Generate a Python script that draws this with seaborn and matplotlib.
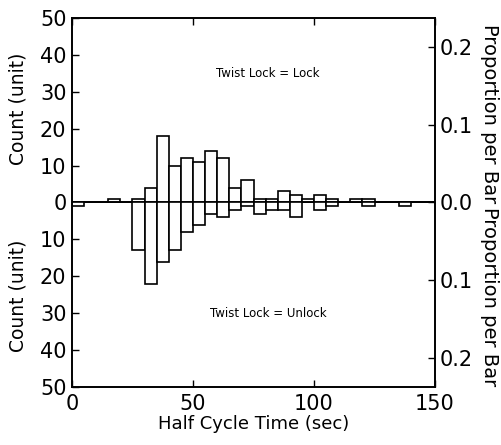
import numpy as np
import pandas as pd
import seaborn as sns
import matplotlib.pyplot as plt

# Half cycle time histogram, 5 sec bins, Lock (up) vs Unlock (down)
bin_left = [0, 5, 10, 15, 20, 25, 30, 35, 40, 45, 50, 55, 60, 65, 70, 75, 80, 85,
            90, 95, 100, 105, 110, 115, 120, 125, 130, 135, 140, 145]
lock_counts = [0, 0, 0, 1, 0, 1, 4, 18, 10, 12, 11, 14, 12, 4, 6, 1, 1, 3,
               2, 1, 2, 1, 0, 1, 1, 0, 0, 0, 0, 0]
unlock_counts = [1, 0, 0, 0, 0, 13, 22, 16, 13, 8, 6, 3, 4, 2, 1, 3, 2, 2,
                 4, 0, 2, 1, 0, 0, 1, 0, 0, 1, 0, 0]
y_ticks = [-50, -40, -30, -20, -10, 0, 10, 20, 30, 40, 50]
prop_ticks = [-0.2, -0.1, 0.0, 0.1, 0.2]

sns.set_style("ticks")
plt.rcParams['font.family'] = ['DejaVu Sans']
plt.rcParams.update({'text.color': 'black', 'axes.labelcolor': 'black',
                     'xtick.color': 'black', 'ytick.color': 'black',
                     'axes.edgecolor': 'black'})

# bin centres so each value falls inside its 5 sec bin
df = pd.DataFrame({'t': [b + 2.5 for b in bin_left], 'lock': lock_counts,
                   'unlock': [-c for c in unlock_counts]})
total = sum(lock_counts) + sum(unlock_counts)

fig = plt.figure(figsize=(5.01, 4.45), dpi=100)
ax = fig.add_axes([0.1437, 0.1303, 0.7246, 0.8293])

ax.axhline(0, color='black', lw=1.2, zorder=0)
sns.histplot(data=df, x='t', weights='lock', binwidth=5, binrange=(0, 150), ax=ax,
             color='white', edgecolor='black', linewidth=1.2, alpha=1)
sns.histplot(data=df, x='t', weights='unlock', binwidth=5, binrange=(0, 150), ax=ax,
             color='white', edgecolor='black', linewidth=1.2, alpha=1)

ax.set_xlim(0, 150)
ax.set_ylim(-50, 50)
ax.set_xticks([0, 50, 100, 150])
ax.set_yticks(y_ticks)
ax.set_yticklabels([str(abs(v)) for v in y_ticks])
ax.tick_params(labelsize=15, direction='in', length=5, top=True, width=1)
ax.tick_params(axis='x', pad=5)
ax.tick_params(axis='y', pad=4)
ax.set_xlabel('Half Cycle Time (sec)', fontsize=13, labelpad=1)
ax.set_ylabel('')

ax2 = ax.twinx()
ax2.set_ylim(-50 / total, 50 / total)
ax2.set_yticks(prop_ticks)
ax2.set_yticklabels(['%.1f' % abs(v) for v in prop_ticks])
ax2.tick_params(labelsize=15, direction='in', length=5, width=1, pad=3)

for a in (ax, ax2):
    for s in a.spines.values():
        s.set_linewidth(1.2)

ax.text(81, 35, 'Twist Lock = Lock', fontsize=8.5, ha='center', va='center')
ax.text(81, -30, 'Twist Lock = Unlock', fontsize=8.5, ha='center', va='center')

# duplicated axis labels for each half
fig.text(0.036, 1 - 109 / 445, 'Count (unit)', rotation=90, fontsize=13.5,
         ha='center', va='center')
fig.text(0.036, 1 - 296 / 445, 'Count (unit)', rotation=90, fontsize=13.5,
         ha='center', va='center')
fig.text(0.978, 1 - 114 / 445, 'Proportion per Bar', rotation=270, fontsize=14,
         ha='center', va='center')
fig.text(0.978, 1 - 297 / 445, 'Proportion per Bar', rotation=270, fontsize=14,
         ha='center', va='center')

fig.savefig('out.png', dpi=100)
